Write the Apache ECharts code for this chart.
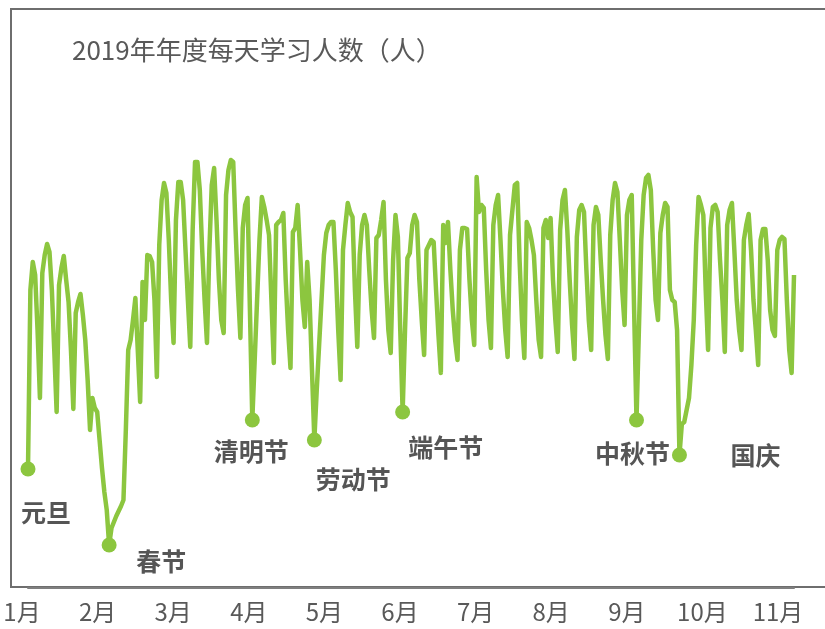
<!DOCTYPE html>
<html>
<head>
<meta charset="utf-8">
<script src="https://cdn.jsdelivr.net/npm/echarts@6/dist/echarts.min.js"></script>
<style>
  html, body { margin: 0; padding: 0; background: #fff; }
  #main { width: 825px; height: 629px; }
</style>
</head>
<body>
<div id="main"></div>
<script>
// 每天学习人数，按月分开
var jan = [1190,2980,3260,3130,2580,1900,3150,3330,3440,3360,2980,2380,1760,3030,3200,3320,3080,2860,2380,1790,2750,2860,2940,2730,2480,2080,1580,1900,1800,1760,1480];
var feb = [1200,960,780,430,600,660,720,770,820,880,1580,2380,2480,2680,2900,2380,1860,3060,2680,3330,3320,3260,2880,2110,3430,3880,4050,3950];
var mar = [3480,2880,2450,3680,4060,4060,3880,3380,2880,2410,3580,4260,4260,3980,3380,2880,2450,3380,4030,4200,3680,3080,2680,2550,3930,4180,4280,4260,3580,2980,2500];
var apr = [3600,3830,3900,2780,1680,2280,2880,3480,3910,3810,3680,3530,2880,2250,3630,3660,3680,3750,3080,2580,2200,3560,3600,3830,3380,2880,2610,3260,2880,2180];
var may = [1480,1980,2430,2880,3330,3550,3630,3660,3660,3180,2580,2080,3380,3630,3850,3760,3710,2980,2410,3330,3630,3730,3630,3180,2780,2500,3500,3530,3680,3860,3080];
var jun = [2580,2350,3280,3730,3510,2580,1760,2580,3300,3350,3630,3730,3660,3080,2680,2330,3380,3430,3480,3460,2980,2530,2150,3630,3450,3660,3180,2780,2480,2280];
var jul = [3380,3600,3600,3590,3080,2680,2430,4110,3760,3830,3800,3180,2680,2400,3630,3830,3930,3480,2980,2580,2310,3530,3780,4030,4050,3280,2680,2300,3660,3600,3480];
var aug = [3330,2880,2480,2310,3600,3680,3500,3700,3080,2680,2360,3580,3880,3980,3580,3080,2630,2290,3510,3780,3830,3760,3180,2680,2380,3630,3810,3730,3280,2880,2530];
var sep = [2290,3530,3880,4050,3960,3480,2980,2630,3730,3880,3930,2780,1680,2580,3480,3930,4100,4130,3980,3380,2880,2680,3550,3730,3850,3810,2980,2880,2860,2580];
var oct = [1330,1640,1660,1780,1900,2230,2680,3430,3910,3830,3730,2980,2380,3600,3810,3830,3760,3280,2880,2360,3630,3780,3850,3380,2880,2580,2380,3480,3630,3740,3380];
var nov = [2880,2580,2230,3480,3590,3590,3280,2780,2580,2520,3380,3480,3510,3490,2880,2380,2150,3130];

var monthLabels = ["1月","2月","3月","4月","5月","6月","7月","8月","9月","10月","11月"];

// 节假日 [名称, 日期]
var holidays = [
  ["元旦", "1-1"],
  ["春节", "2-4"],
  ["清明节", "4-5"],
  ["劳动节", "5-1"],
  ["端午节", "6-7"],
  ["中秋节", "9-13"],
  ["国庆", "10-1"]
];

// 标签偏移（样式）
var labelOffset = {
  "元旦": [18, 43],
  "春节": [52, 16],
  "清明节": [-1, 31],
  "劳动节": [39, 39],
  "端午节": [43, 35],
  "中秋节": [-4, 33],
  "国庆": [76, 0]
};

var months = [jan, feb, mar, apr, may, jun, jul, aug, sep, oct, nov];
var days = [];
var values = [];
months.forEach(function (arr, m) {
  arr.forEach(function (v, i) {
    days.push((m + 1) + "-" + (i + 1));
    values.push(v);
  });
});

var green = "#8cc63f";
var textColor = "#555555";
var font = "'Noto Sans CJK SC', 'Noto Sans', sans-serif";

var holidayData = holidays.map(function (h) {
  var idx = days.indexOf(h[1]);
  return {
    name: h[0],
    value: [h[1], values[idx]],
    label: { offset: labelOffset[h[0]] }
  };
});

var chart = echarts.init(document.getElementById("main"));
var option = {
  animation: false,
  title: {
    text: "2019年年度每天学习人数（人）",
    left: 67,
    top: 32,
    textStyle: { color: "#595959", fontSize: 26, fontWeight: "normal", fontFamily: font }
  },
  graphic: [
    {
      type: "rect",
      z: -10,
      shape: { x: 11, y: 9, width: 840, height: 578 },
      style: { fill: "none", stroke: "#6e6e6e", lineWidth: 2 }
    }
  ],
  grid: [
    { left: 28, width: 766, top: 88, bottom: 41 },
    // 月份标签用的网格
    { left: 22, width: 756, top: 88, bottom: 41 }
  ],
  xAxis: [
    {
      type: "category",
      gridIndex: 0,
      data: days,
      boundaryGap: false,
      axisLine: { show: true, lineStyle: { color: "#7f7f7f", width: 2 } },
      axisTick: { show: false },
      axisLabel: { show: false }
    },
    {
      type: "category",
      gridIndex: 1,
      data: monthLabels,
      boundaryGap: false,
      axisLine: { show: false },
      axisTick: { show: false },
      axisLabel: {
        color: "#595959",
        fontSize: 24,
        fontFamily: font,
        margin: 12,
        interval: 0
      }
    }
  ],
  yAxis: [
    { type: "value", gridIndex: 0, min: 0, max: 5000, show: false },
    { type: "value", gridIndex: 1, min: 0, max: 5000, show: false }
  ],
  series: [
    {
      type: "line",
      data: values,
      symbol: "none",
      lineStyle: { color: green, width: 4.5, join: "round" },
      z: 2
    },
    {
      type: "scatter",
      data: holidayData,
      symbol: "circle",
      symbolSize: 15,
      itemStyle: { color: green, opacity: 1 },
      label: {
        show: true,
        position: "inside",
        formatter: "{b}",
        color: textColor,
        fontSize: 25,
        fontWeight: "bold",
        fontFamily: font
      },
      z: 3
    }
  ]
};
chart.setOption(option);
</script>
</body>
</html>
